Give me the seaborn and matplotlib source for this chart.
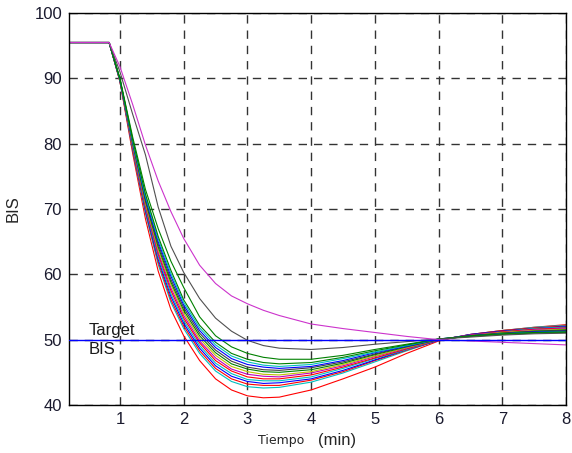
import numpy as np
import pandas as pd
import matplotlib
matplotlib.use("Agg")
import matplotlib.pyplot as plt
import seaborn as sns

# sample times (min)
tiempo = [0.2, 0.83, 1.0, 1.2, 1.4, 1.6, 1.8, 2.0, 2.25, 2.5, 2.75, 3.0, 3.25,
          3.5, 4.0, 4.5, 5.0, 5.5, 6.0, 6.5, 7.0, 7.5, 8.0]

# BIS response of each simulated patient
bis_r0 = [95.5, 95.5, 89.5, 78.5, 68.5, 60.5, 54.6, 50.6, 46.8, 44.0, 42.3, 41.4, 41.1, 41.2, 42.3, 44.0, 45.8, 47.9, 49.8, 50.8, 51.4, 51.9, 52.3]
bis_c0 = [95.5, 95.5, 89.6, 79.0, 69.3, 61.5, 55.7, 51.7, 47.9, 45.2, 43.6, 42.8, 42.6, 42.7, 43.5, 44.9, 46.6, 48.3, 49.9, 50.8, 51.4, 51.9, 52.2]
bis_r1 = [95.5, 95.5, 89.6, 79.1, 69.6, 61.9, 56.1, 52.1, 48.3, 45.6, 44.0, 43.2, 43.0, 43.0, 43.8, 45.1, 46.8, 48.4, 49.9, 50.8, 51.4, 51.8, 52.1]
bis_b1 = [95.5, 95.5, 89.7, 79.3, 69.8, 62.3, 56.6, 52.5, 48.7, 46.0, 44.4, 43.6, 43.3, 43.4, 44.0, 45.3, 46.9, 48.5, 49.9, 50.8, 51.3, 51.7, 52.0]
bis_c1 = [95.5, 95.5, 89.7, 79.4, 70.1, 62.7, 57.0, 52.9, 49.1, 46.4, 44.8, 43.9, 43.7, 43.7, 44.3, 45.6, 47.1, 48.5, 50.0, 50.7, 51.2, 51.7, 51.9]
bis_r2 = [95.5, 95.5, 89.7, 79.6, 70.4, 63.1, 57.5, 53.3, 49.5, 46.8, 45.2, 44.3, 44.0, 44.0, 44.6, 45.8, 47.2, 48.6, 50.0, 50.7, 51.2, 51.6, 51.8]
bis_m1 = [95.5, 95.5, 89.7, 79.7, 70.7, 63.4, 57.9, 53.7, 49.8, 47.2, 45.5, 44.7, 44.4, 44.3, 44.9, 46.0, 47.4, 48.7, 50.0, 50.7, 51.1, 51.5, 51.7]
bis_y1 = [95.5, 95.5, 89.8, 79.9, 70.9, 63.8, 58.4, 54.1, 50.2, 47.6, 45.9, 45.1, 44.7, 44.6, 45.1, 46.2, 47.5, 48.8, 50.0, 50.6, 51.1, 51.4, 51.6]
bis_g1 = [95.5, 95.5, 89.8, 80.0, 71.2, 64.2, 58.8, 54.5, 50.6, 48.0, 46.3, 45.5, 45.1, 45.0, 45.4, 46.4, 47.7, 48.9, 50.0, 50.6, 51.0, 51.3, 51.5]
bis_k1 = [95.5, 95.5, 89.8, 80.2, 71.5, 64.6, 59.2, 54.9, 51.0, 48.4, 46.7, 45.8, 45.4, 45.3, 45.7, 46.6, 47.8, 49.0, 50.0, 50.6, 51.0, 51.3, 51.4]
bis_b2 = [95.5, 95.5, 89.8, 80.3, 71.7, 65.0, 59.7, 55.3, 51.4, 48.8, 47.1, 46.2, 45.8, 45.6, 45.9, 46.8, 48.0, 49.0, 50.1, 50.6, 50.9, 51.2, 51.3]
bis_c2 = [95.5, 95.5, 89.9, 80.4, 72.0, 65.4, 60.1, 55.7, 51.8, 49.2, 47.5, 46.6, 46.1, 45.9, 46.2, 47.1, 48.1, 49.1, 50.1, 50.5, 50.9, 51.1, 51.2]
bis_g2 = [95.5, 95.5, 89.9, 80.6, 72.3, 65.8, 60.6, 56.1, 52.2, 49.6, 47.9, 47.0, 46.5, 46.3, 46.5, 47.3, 48.3, 49.2, 50.1, 50.5, 50.8, 51.0, 51.1]
bis_g3 = [95.5, 95.5, 90.0, 81.0, 73.0, 67.0, 62.0, 58.0, 53.5, 50.6, 48.9, 47.9, 47.3, 47.0, 47.0, 47.6, 48.5, 49.3, 50.1, 50.6, 50.9, 51.1, 51.2]
bis_k2 = [95.5, 95.5, 91.0, 84.5, 78.3, 70.3, 64.3, 60.3, 56.3, 53.3, 51.3, 49.9, 49.1, 48.7, 48.5, 48.8, 49.3, 49.7, 50.1, 50.4, 50.7, 50.9, 51.0]
bis_m2 = [95.5, 95.5, 91.8, 86.0, 79.8, 74.3, 69.6, 65.5, 61.4, 58.6, 56.7, 55.5, 54.5, 53.7, 52.4, 51.7, 51.1, 50.5, 50.0, 49.8, 49.6, 49.4, 49.2]

target_bis = 50

curves = [
    ("r0", bis_r0, "#ff0000"), ("c0", bis_c0, "#00bfbf"), ("r1", bis_r1, "#ff0000"),
    ("b1", bis_b1, "#0000ff"), ("c1", bis_c1, "#00bfbf"), ("r2", bis_r2, "#ff0000"),
    ("m1", bis_m1, "#bf00bf"), ("y1", bis_y1, "#bfbf00"), ("g1", bis_g1, "#008000"),
    ("k1", bis_k1, "#404040"), ("b2", bis_b2, "#0000ff"), ("c2", bis_c2, "#00bfbf"),
    ("g2", bis_g2, "#008000"), ("g3", bis_g3, "#008000"), ("k2", bis_k2, "#505050"),
    ("m2", bis_m2, "#cc33cc"),
]

df = pd.concat([pd.DataFrame({"tiempo": tiempo, "bis": vals, "curve": name})
                for name, vals, _ in curves], ignore_index=True)
palette = {name: col for name, _, col in curves}

sns.set_style("white")
plt.rcParams['font.family'] = ['Liberation Sans', 'DejaVu Sans']

fig = plt.figure(figsize=(5.72, 4.53), dpi=100)
ax = fig.add_axes([0.1206, 0.106, 0.869, 0.865])

sns.lineplot(data=df, x="tiempo", y="bis", hue="curve", palette=palette,
             estimator=None, sort=False, legend=False, linewidth=0.8, ax=ax)
ax.axhline(target_bis, color="#0000ff", linewidth=1.0, zorder=3)

ax.set_xlim(0.2, 8)
ax.set_ylim(40, 100)
ax.set_xticks(range(1, 9))
ax.set_yticks(range(40, 101, 10))
ax.tick_params(direction="in", length=4, labelsize=12, colors="black", pad=5)
for lbl in ax.get_xticklabels() + ax.get_yticklabels():
    lbl.set_color("#1a1a2e")

ax.grid(True, color="#333333", linestyle=(0, (6, 5)), linewidth=1.0)
for s in ax.spines.values():
    s.set_color("black")
    s.set_linewidth(1.0)

ax.set_xlabel("")
ax.set_ylabel("BIS", fontsize=12, labelpad=10)
ax.text(0.38, -0.09, "Tiempo", transform=ax.transAxes, fontsize=9,
        family="DejaVu Sans", va="center", ha="left")
ax.text(0.50, -0.09, "(min)", transform=ax.transAxes, fontsize=12,
        va="center", ha="left")

ax.text(0.51, 50.3, "Target", fontsize=12, va="bottom", ha="left", color="#1a1a1a")
ax.text(0.51, 49.6, "BIS", fontsize=12, va="top", ha="left", color="#1a1a1a")

fig.savefig("out.png", dpi=100)
